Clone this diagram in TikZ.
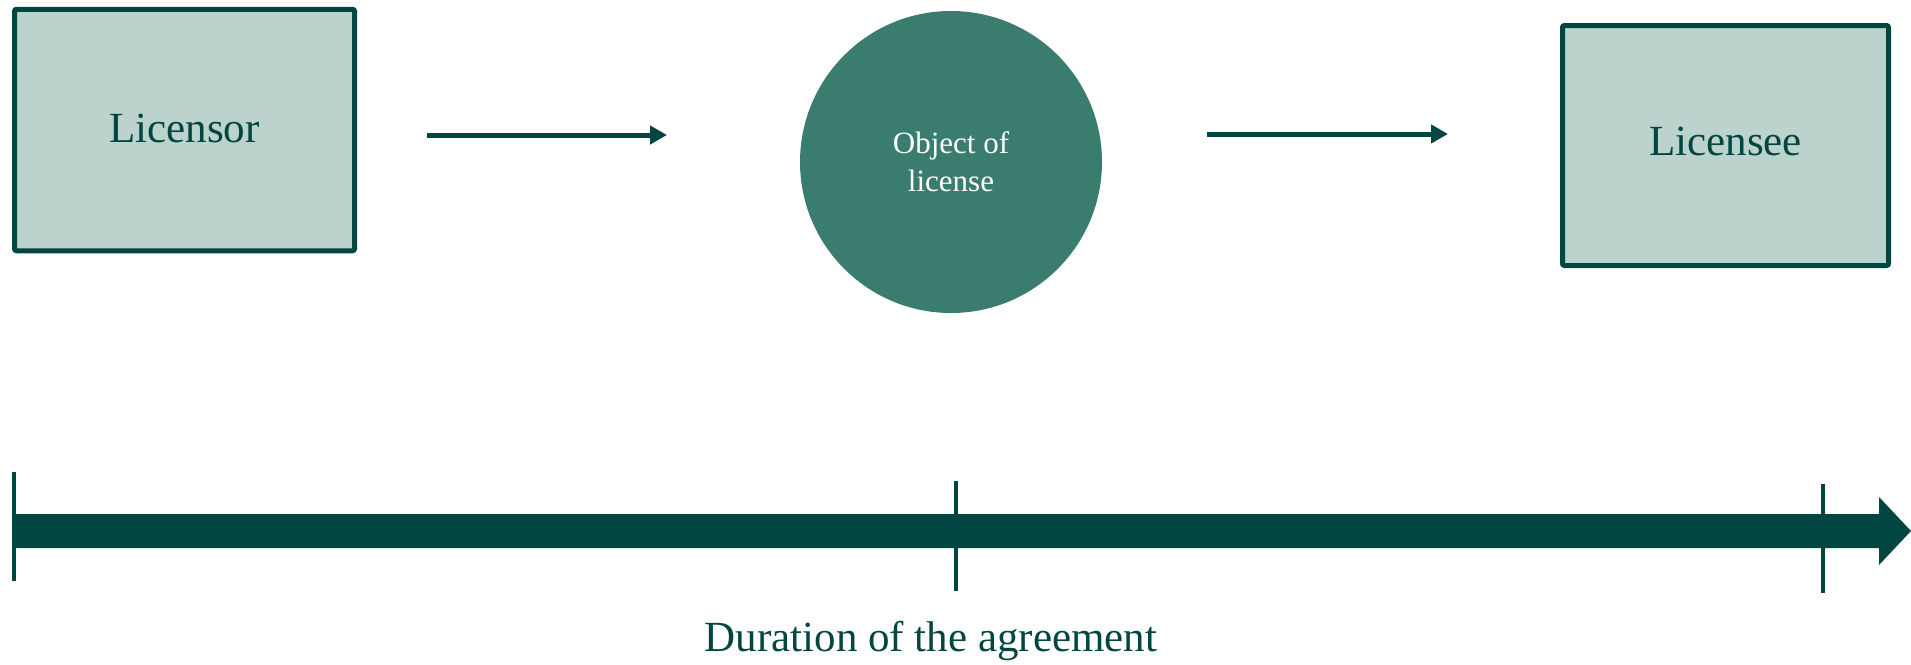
\documentclass[tikz,border=0pt]{standalone}
\usepackage{fontspec}
\setmainfont{Liberation Serif}
\usetikzlibrary{arrows.meta}
\definecolor{dark}{HTML}{024641}
\definecolor{boxfill}{HTML}{BCD2CC}
\definecolor{circfill}{HTML}{3A7D6E}
\tikzset{
  partybox/.style={draw=dark, fill=boxfill, line width=5pt, rounded corners=2pt, text=dark, font=\fontsize{43}{50}\selectfont, inner sep=0pt},
  objcircle/.style={circle, fill=circfill, draw=none, text=white, align=center, font=\fontsize{31}{38}\selectfont, minimum size=302pt, inner sep=0pt},
  flowarrow/.style={draw=dark, line width=5pt, -{Triangle[length=17pt,width=18pt]}},
  tickline/.style={draw=dark, line width=4.5pt},
  durlabel/.style={text=dark, font=\fontsize{43}{50}\selectfont, inner sep=0pt}
}
\begin{document}
\begin{tikzpicture}[x=1pt,y=-1pt]
\useasboundingbox (0,0) rectangle (1911,664);
% parties
\node[partybox, minimum width=340pt, minimum height=241.5pt] (licensor) at (184.5,130) {\raisebox{4pt}{Licensor}};
\node[partybox, minimum width=326pt, minimum height=240pt] (licensee) at (1725.5,145.5) {\raisebox{9pt}{Licensee}};
\node[objcircle] (object) at (951,162) {Object of\\license};
% flow arrows
\coordinate (a1s) at (427,135);
\coordinate (a1e) at (667,135);
\coordinate (a2s) at (1207,134);
\coordinate (a2e) at (1448,134);
\draw[flowarrow] (a1s) -- (a1e);
\draw[flowarrow] (a2s) -- (a2e);
% timeline
\fill[dark] (14,514) -- (1879,514) -- (1879,497) -- (1911,531) -- (1879,565) -- (1879,548) -- (14,548) -- cycle;
\coordinate (t1a) at (14,472); \coordinate (t1b) at (14,581);
\coordinate (t2a) at (956,481); \coordinate (t2b) at (956,591);
\coordinate (t3a) at (1823,484); \coordinate (t3b) at (1823,593);
\draw[tickline] (t1a) -- (t1b);
\draw[tickline] (t2a) -- (t2b);
\draw[tickline] (t3a) -- (t3b);
\node[durlabel, anchor=base] (duration) at (931,651) {Duration of the agreement};
\end{tikzpicture}
\end{document}
